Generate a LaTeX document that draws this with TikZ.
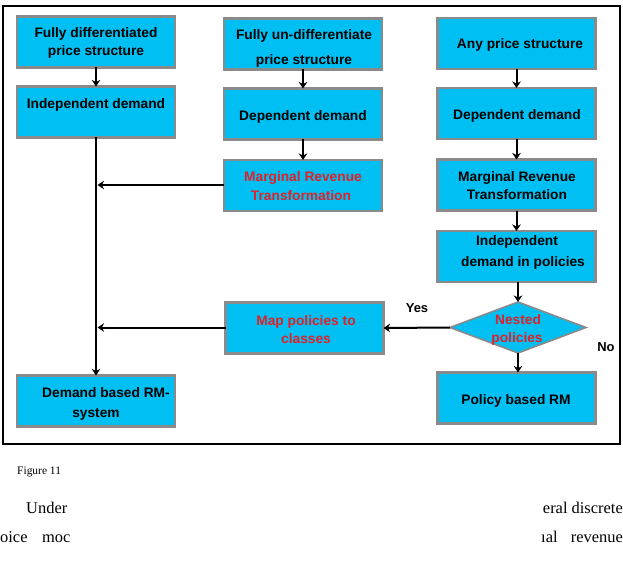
\documentclass[tikz,border=0pt]{standalone}
\usepackage{fontspec}
\setmainfont{Liberation Serif}
\newfontfamily\boxfont{Liberation Sans}
\usetikzlibrary{shapes.geometric,arrows.meta}
\definecolor{boxcyan}{RGB}{0,192,243}
\definecolor{boxedge}{RGB}{138,138,138}
\definecolor{redtxt}{RGB}{225,32,40}
\begin{document}
\begin{tikzpicture}[x=1bp,y=-1bp,
  box/.style={draw=boxedge, line width=2.4bp, fill=boxcyan, inner sep=0pt, outer sep=0pt,
              minimum width=158bp, minimum height=51bp},
  dia/.style={diamond, draw=boxedge, line width=1.6bp, fill=boxcyan, inner sep=0pt, outer sep=0pt,
              minimum width=136bp, minimum height=51bp},
  txt/.style={font=\boxfont\bfseries\fontsize{13.8}{15}\selectfont, inner sep=0pt, anchor=base},
  rtxt/.style={txt, text=redtxt},
  lbl/.style={font=\boxfont\bfseries\fontsize{13}{15}\selectfont, inner sep=0pt, anchor=base},
  body/.style={font=\fontsize{16.5}{18}\selectfont, inner sep=0pt},
  arr/.style={-{Stealth[length=6.5bp,width=8.5bp,inset=2bp]}, line width=2bp},
]
\useasboundingbox (0,0) rectangle (623,567);
% frame
\draw[line width=1.3bp] (3,6) rectangle (620,444);

% boxes
\node[box] (A) at (96,42) {};
\node[box] (B) at (96,112) {};
\node[box] (C) at (303,44) {};
\node[box] (D) at (303,114) {};
\node[box] (E) at (303,185.5) {};
\node[box] (F) at (516.5,43.5) {};
\node[box] (G) at (516.5,113.5) {};
\node[box] (H) at (516.5,185) {};
\node[box] (I) at (516.5,256.5) {};
\node[dia] (N) at (518,327.5) {};
\node[box] (J) at (516.5,398) {};
\node[box] (K) at (304.5,328) {};
\node[box] (L) at (96,401) {};

% texts
\node[txt] (tA1) at (96,38) {Fully differentiated};
\node[txt] (tA2) at (96,56) {price structure};
\node[txt] (tB) at (96,109) {Independent demand};
\node[txt] (tC1) at (304,40) {Fully un-differentiate};
\node[txt] (tC2) at (304,65) {price structure};
\node[txt] (tD) at (303,121) {Dependent demand};
\node[rtxt] (tE1) at (303,182) {Marginal Revenue};
\node[rtxt] (tE2) at (301,200) {Transformation};
\node[txt] (tF) at (520,49) {Any price structure};
\node[txt] (tG) at (517,120) {Dependent demand};
\node[txt] (tH1) at (517,182) {Marginal Revenue};
\node[txt] (tH2) at (517,199) {Transformation};
\node[txt] (tI1) at (517,245) {Independent};
\node[txt] (tI2) at (523,266) {demand in policies};
\node[rtxt] (tN1) at (518,324) {Nested};
\node[rtxt] (tN2) at (517,342) {policies};
\node[txt] (tJ) at (516,404) {Policy based RM};
\node[rtxt] (tK1) at (306,325) {Map policies to};
\node[rtxt] (tK2) at (306,343) {classes};
\node[txt] (tL1) at (106,397) {Demand based RM-};
\node[txt] (tL2) at (96,417) {system};
\node[lbl] (yes) at (417,312) {Yes};
\node[lbl] (no) at (606,351) {No};

% connectors
\coordinate (jE) at (97.5,185);
\coordinate (jK) at (97.5,327.5);
\draw[arr] (A.south) -- (B.north);
\draw[arr] (C.south) -- (D.north);
\draw[arr] (D.south) -- (E.north);
\draw[arr] (F.south) -- (G.north);
\draw[arr] (G.south) -- (H.north);
\draw[arr] (H.south) -- (I.north);
\draw[arr] (I.south -| N.north) -- (N.north);
\draw[arr] (N.south) -- (N.south |- J.north);
\draw[arr] (N.west) -- (K.east);
\draw[arr] (B.south) -- (L.north);
\draw[arr] (E.west |- jE) -- (jE);
\draw[arr] (K.west |- jK) -- (jK);

% text below the frame
\node[font=\fontsize{11.5}{13}\selectfont, inner sep=0pt, anchor=base west] (fig) at (17,474) {Figure 11};
\node[body, anchor=base west] (p1) at (26,513) {Under};
\node[body, anchor=base east] (p2) at (623,513) {eral discrete};
\node[body, anchor=base west] (p3) at (0,542) {oice};
\node[body, anchor=base west] (p4) at (42,542) {moc};
\node[body, anchor=base west] (p5) at (541,542) {ıal};
\node[body, anchor=base east] (p6) at (623,542) {revenue};
\end{tikzpicture}
\end{document}
